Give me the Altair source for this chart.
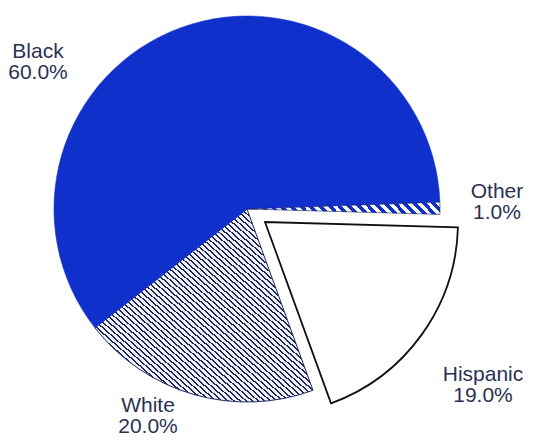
import math
import altair as alt
import pandas as pd

# ---- data ----
categories = ["Black", "Other", "Hispanic", "White"]
values = [60.0, 1.0, 19.0, 20.0]
order = [0, 1, 2, 3]

df = pd.DataFrame({"category": categories, "value": values, "order": order})

# ---- styling / layout ----
W, H = 517, 430
CX, CY, R = 239, 201, 193
START = 232  # degrees, where the Black slice begins (clockwise from 12 o'clock)
BLUE = "#1030cc"
TEXT = "#2c3152"
FONT = "Liberation Sans"

theta_scale = alt.Scale(domain=[0, 100],
                        range=[math.radians(START), math.radians(START + 360)])


def stripes(c1, c2, n, frac, x1, y1, x2, y2):
    stops = []
    for i in range(n):
        a = i / n
        b = min(1.0, (i + frac) / n)
        c = min(1.0, (i + 1) / n)
        stops += [{"offset": a, "color": c1}, {"offset": b, "color": c1},
                  {"offset": b, "color": c2}, {"offset": c, "color": c2}]
    return {"gradient": "linear", "x1": x1, "y1": y1, "x2": x2, "y2": y2,
            "stops": stops}


hatch_white = stripes("#20264e", "#edf0f9", 72, 0.34, 0, 1, 1, 0)
hatch_other = stripes(BLUE, "#ffffff", 20, 0.5, 0, 0.06, 1, 0)

base = (
    alt.Chart(df)
    .transform_window(cum="sum(value)", sort=[alt.SortField("order")])
    .transform_calculate(
        start="datum.cum - datum.value",
        label="datum.category + '\\n' + format(datum.value, '.1f') + '%'",
    )
)


def slice_layer(cat, dx=0, dy=0, **mark):
    return (
        base.transform_filter(alt.datum.category == cat)
        .mark_arc(radius=R, **mark)
        .encode(
            theta=alt.Theta("start:Q", scale=theta_scale, stack=None),
            theta2="cum:Q",
            x=alt.value(CX + dx),
            y=alt.value(CY + dy),
        )
    )


black = slice_layer("Black", fill=BLUE, stroke=BLUE, strokeWidth=0.6)
other = slice_layer("Other", fill=hatch_other, stroke="#1a2060", strokeWidth=0.6)
white = slice_layer("White", fill=hatch_white, stroke="#232a6a", strokeWidth=1)
hisp = slice_layer("Hispanic", dx=18, dy=13, fill="#ffffff", stroke="#111111",
                   strokeWidth=1.8)


def label_layer(cat, lx, ly):
    return (
        base.transform_filter(alt.datum.category == cat)
        .mark_text(align="center", baseline="top", lineBreak="\n", fontSize=21,
                   lineHeight=21, font=FONT, color=TEXT)
        .encode(text="label:N", x=alt.value(lx), y=alt.value(ly))
    )


labels = [
    label_layer("Black", 30, 33),
    label_layer("Other", 489, 173),
    label_layer("Hispanic", 475, 356),
    label_layer("White", 140, 387),
]

chart = (
    alt.layer(white, black, other, hisp, *labels)
    .properties(width=W, height=H, padding=0,
                autosize=alt.AutoSizeParams(type="fit", contains="padding"))
    .configure_view(stroke="#ffffff", strokeWidth=0)
)

chart.save("out.html", embed_options={"renderer": "svg", "actions": False})
